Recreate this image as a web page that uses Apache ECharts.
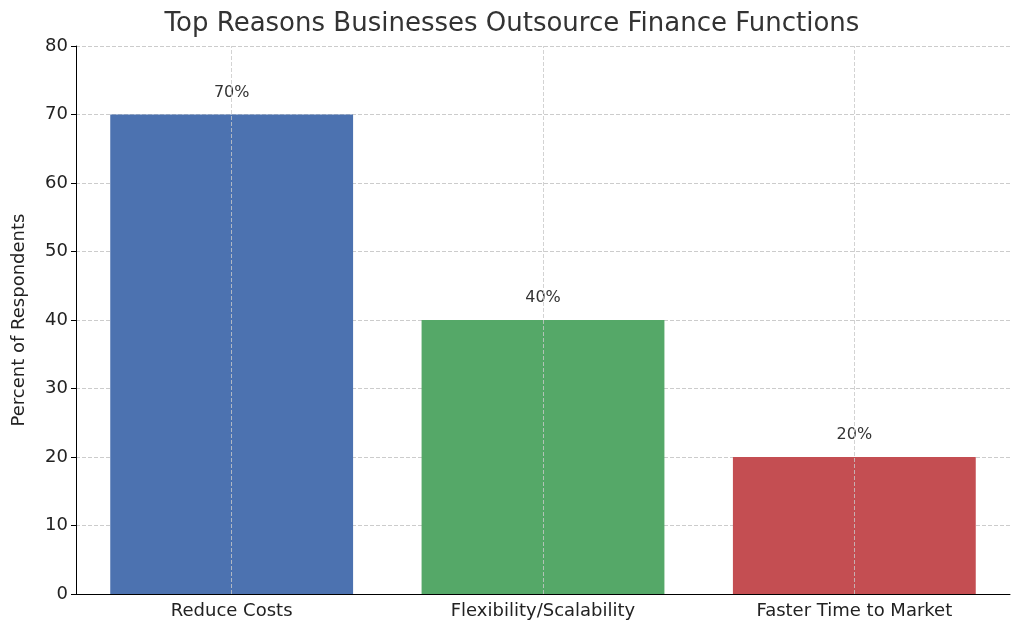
<!DOCTYPE html>
<html>
<head>
<meta charset="utf-8">
<script src="https://cdn.jsdelivr.net/npm/echarts@6/dist/echarts.min.js"></script>
<style>html,body{margin:0;padding:0;background:#fff}#chart{width:1024px;height:635px}</style>
</head>
<body>
<div id="chart"></div>
<script>
var categories = ['Reduce Costs', 'Flexibility/Scalability', 'Faster Time to Market'];
var values = [70, 40, 20];
var colors = ['#4c72b0', '#55a868', '#c44e52'];

var chart = echarts.init(document.getElementById('chart'));
var option = {
    title: {
        text: 'Top Reasons Businesses Outsource Finance Functions',
        left: 'center', top: 6,
        textStyle: {fontFamily: 'DejaVu Sans', fontSize: 26, fontWeight: 'normal', color: '#333'}
    },
    grid: {left: 76, right: 14, top: 46, bottom: 41},
    xAxis: {
        type: 'category',
        data: categories,
        axisLine: {lineStyle: {color: '#000'}},
        axisTick: {alignWithLabel: true, lineStyle: {color: '#000'}},
        axisLabel: {fontFamily: 'DejaVu Sans', fontSize: 18, color: '#222', margin: 8}
    },
    yAxis: {
        type: 'value', min: 0, max: 80, interval: 10,
        name: 'Percent of Respondents', nameLocation: 'middle', nameGap: 48,
        nameTextStyle: {fontFamily: 'DejaVu Sans', fontSize: 18, color: '#222'},
        axisLine: {show: true, lineStyle: {color: '#000'}},
        axisTick: {show: true, lineStyle: {color: '#000'}},
        axisLabel: {fontFamily: 'DejaVu Sans', fontSize: 18, color: '#222'},
        splitLine: {lineStyle: {type: 'dashed', color: '#ccc'}}
    },
    series: [{
        type: 'bar',
        barWidth: '78%',
        data: values.map(function (v, i) { return {value: v, itemStyle: {color: colors[i]}}; }),
        label: {
            show: true, position: 'top', distance: 14,
            formatter: '{c}%', fontFamily: 'DejaVu Sans', fontSize: 16, color: '#333'
        },
        markLine: {
            silent: true, symbol: 'none', label: {show: false},
            lineStyle: {type: 'dashed', color: 'rgba(200,200,200,0.8)', width: 1},
            data: categories.map(function (c) { return {xAxis: c}; })
        }
    }]
};
chart.setOption(option);
</script>
</body>
</html>
